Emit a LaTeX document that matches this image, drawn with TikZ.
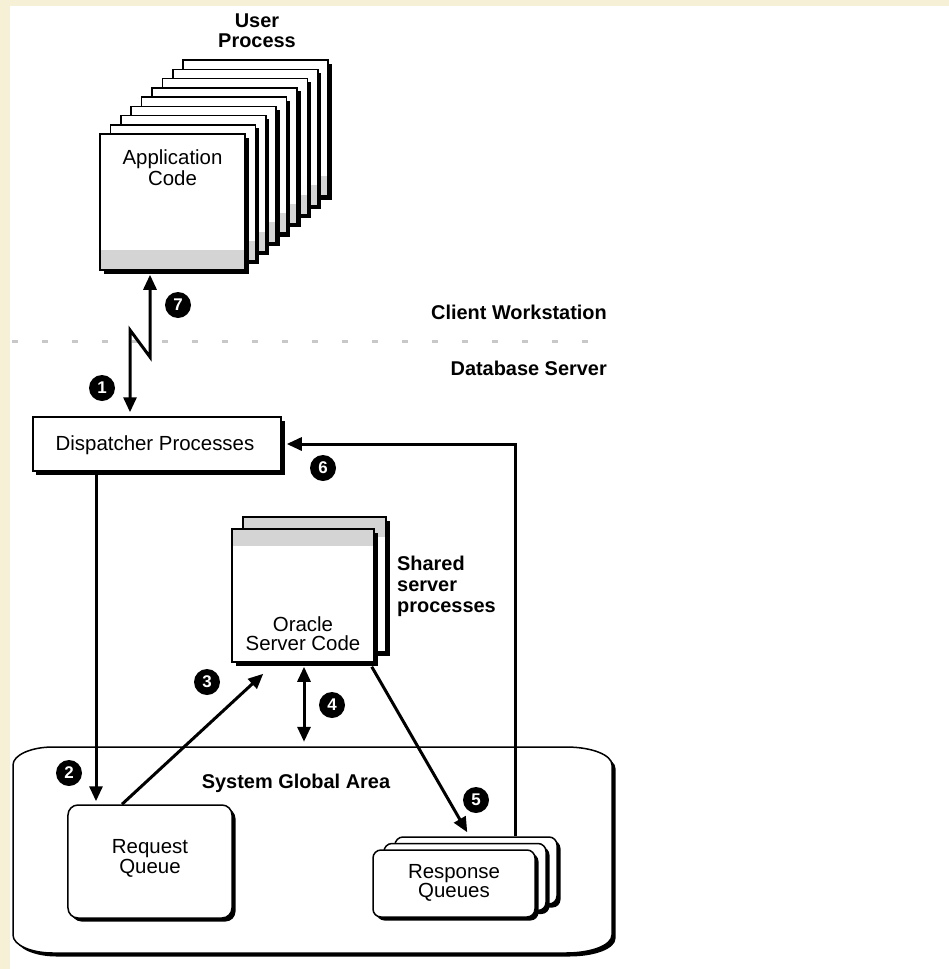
\documentclass[tikz,border=0pt]{standalone}
\usepackage{fontspec}
\setmainfont{Liberation Sans}
\usetikzlibrary{arrows.meta,shadows,calc}

\definecolor{cream}{HTML}{F5F0D6}
\definecolor{band}{HTML}{D4D4D4}
\definecolor{dotgray}{HTML}{C8C8C8}

\tikzset{
  boxshadow/.style={general shadow={fill=black, shadow xshift=3.5bp, shadow yshift=-3.5bp}},
  sheet/.style={rectangle, draw=black, line width=1.5bp, fill=white, inner sep=0pt, boxshadow},
  bottomband/.style={path picture={\fill[band] ([yshift=20bp]path picture bounding box.south west) rectangle (path picture bounding box.south east);}},
  topband/.style={path picture={\fill[band] (path picture bounding box.north west) rectangle ([yshift=-#1bp]path picture bounding box.north east);}},
  lbl/.style={inner sep=0pt, align=center, font=\fontsize{20.5}{#1}\selectfont},
  blbl/.style={inner sep=0pt, align=center, font=\fontsize{20}{#1}\selectfont\bfseries},
  badge/.style={circle, fill=black, minimum size=26bp, inner sep=0pt, text=white,
    font=\fontsize{17}{17}\selectfont\bfseries},
  arr/.style={line width=3bp, -{Triangle[length=15bp,width=13bp]}},
  dblarr/.style={line width=3bp, {Triangle[length=15bp,width=13bp]}-{Triangle[length=15bp,width=13bp]}}
}

\begin{document}
\begin{tikzpicture}[x=1bp,y=-1bp]
\useasboundingbox (0,0) rectangle (949,969);
% page frame
\fill[cream] (0,0) rectangle (949,969);
\fill[white] (10,6) rectangle (949,969);

% boundary between the two machines
\draw[dotgray, line width=3bp, dash pattern=on 6bp off 24bp] (12,341) -- (590,341);
\node[blbl=21, anchor=east] (client) at (607,312) {Client Workstation};
\node[blbl=21, anchor=east] (dbserver) at (607,368) {Database Server};

% System Global Area
\node[minimum width=599bp, minimum height=206bp, inner sep=0pt] (sga) at (312.5,850) {};
\path[boxshadow, draw=black, fill=white, line width=1.5bp]
  (53,747) -- (566,747) .. controls (592,747) and (612,755) .. (612,765)
  -- (612,935) .. controls (612,945) and (592,953) .. (566,953)
  -- (53,953) .. controls (31,953) and (13,945) .. (13,935)
  -- (13,765) .. controls (13,755) and (31,747) .. (53,747) -- cycle;
\node[blbl=21] (sgatext) at (296,783) {System Global Area};

% user processes: a stack of application sheets
\foreach \i in {8,7,...,1}
  \node[sheet, bottomband, minimum width=145bp, minimum height=136bp]
    (app\i) at ({172.5+10.4*\i},{202-9.25*\i}) {};
\node[sheet, bottomband, minimum width=145bp, minimum height=136bp] (app) at (172.5,202) {};
\node[lbl=21] (apptext) at (172.5,167.5) {Application\\Code};
\node[blbl=20] (usertext) at (257,31) {User\\Process};

% dispatcher
\node[sheet, minimum width=248bp, minimum height=54bp] (disp) at (157,444) {};
\node[lbl=21] (disptext) at (155,445) {Dispatcher Processes};

% shared server processes
\node[sheet, topband=20, minimum width=143bp, minimum height=135bp] (orabk) at (314.5,584.5) {};
\node[sheet, topband=17, minimum width=142bp, minimum height=133bp] (orafront) at (303,595.5) {};
\node[lbl=19] (oratext) at (303,634) {Oracle\\Server Code};
\node[blbl=21, anchor=west, align=left] (sharedtext) at (397,586) {Shared\\server\\processes};

% queues in the SGA
\node[sheet, rounded corners=10bp, minimum width=164bp, minimum height=113bp] (rq) at (150,861.5) {};
\node[lbl=20] (rqtext) at (150,858) {Request\\Queue};
\node[sheet, rounded corners=8bp, minimum width=162bp, minimum height=67bp] (rsp3) at (476,870.5) {};
\node[sheet, rounded corners=8bp, minimum width=162bp, minimum height=67bp] (rsp2) at (465,877) {};
\node[sheet, rounded corners=8bp, minimum width=162bp, minimum height=67bp] (rsp) at (454,883.5) {};
\node[lbl=19] (rsptext) at (454,882.5) {Response\\Queues};

% connectors
\coordinate (z1) at (150,357);
\coordinate (z2) at (130,330);
\draw[dblarr, line join=miter, shorten <=4bp, shorten >=4bp]
  (app.south -| z1) -- (z1) -- (z2) -- (disp.north -| z2);

\coordinate (x2) at (96,0);
\draw[arr, shorten <=3bp, shorten >=3bp] (disp.south -| x2) -- (rq.north -| x2);

\coordinate (x3) at (122,0);
\draw[arr] (rq.north -| x3) -- ($(orafront.south west)+(32,11)$);

\coordinate (x4) at (304,0);
\draw[dblarr, shorten <=4bp, shorten >=5bp] (orafront.south -| x4) -- (sga.north -| x4);

\draw[arr] ($(orafront.south east)+(-3,4)$) -- ($(rsp3.north west)+(73,-4)$);

\coordinate (x6) at (515,0);
\draw[arr, shorten >=5bp] (rsp3.north -| x6) |- (disp.east);

% step numbers
\node[badge] (n1) at (102,388) {1};
\node[badge] (n2) at (69,773) {2};
\node[badge] (n3) at (207,682) {3};
\node[badge] (n4) at (332,705) {4};
\node[badge] (n5) at (476,800) {5};
\node[badge] (n6) at (323,468) {6};
\node[badge] (n7) at (178,305) {7};
\end{tikzpicture}
\end{document}
